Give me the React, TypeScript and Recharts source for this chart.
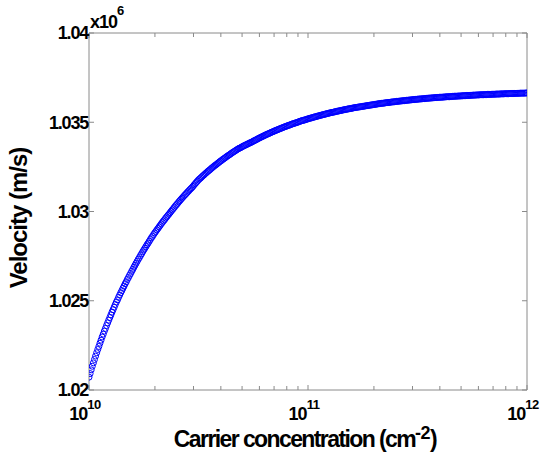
import { ScatterChart, Scatter, XAxis, YAxis, ReferenceLine } from 'recharts';

// carrier concentration, as log10(n) with n in cm^-2
const LOG_N = [
  10.000, 10.005, 10.010, 10.015, 10.020, 10.025, 10.030, 10.035, 10.040, 10.045,
  10.050, 10.055, 10.060, 10.065, 10.070, 10.075, 10.080, 10.085, 10.090, 10.095,
  10.100, 10.105, 10.110, 10.115, 10.120, 10.125, 10.130, 10.135, 10.140, 10.145,
  10.150, 10.155, 10.160, 10.165, 10.170, 10.175, 10.180, 10.185, 10.190, 10.195,
  10.200, 10.205, 10.210, 10.215, 10.220, 10.225, 10.230, 10.235, 10.240, 10.245,
  10.250, 10.255, 10.260, 10.265, 10.270, 10.275, 10.280, 10.285, 10.290, 10.295,
  10.300, 10.305, 10.310, 10.315, 10.320, 10.325, 10.330, 10.335, 10.340, 10.345,
  10.350, 10.355, 10.360, 10.365, 10.370, 10.375, 10.380, 10.385, 10.390, 10.395,
  10.400, 10.405, 10.410, 10.415, 10.420, 10.425, 10.430, 10.435, 10.440, 10.445,
  10.450, 10.455, 10.460, 10.465, 10.470, 10.475, 10.480, 10.485, 10.490, 10.495,
  10.500, 10.505, 10.510, 10.515, 10.520, 10.525, 10.530, 10.535, 10.540, 10.545,
  10.550, 10.555, 10.560, 10.565, 10.570, 10.575, 10.580, 10.585, 10.590, 10.595,
  10.600, 10.605, 10.610, 10.615, 10.620, 10.625, 10.630, 10.635, 10.640, 10.645,
  10.650, 10.655, 10.660, 10.665, 10.670, 10.675, 10.680, 10.685, 10.690, 10.695,
  10.700, 10.705, 10.710, 10.715, 10.720, 10.725, 10.730, 10.735, 10.740, 10.745,
  10.750, 10.755, 10.760, 10.765, 10.770, 10.775, 10.780, 10.785, 10.790, 10.795,
  10.800, 10.805, 10.810, 10.815, 10.820, 10.825, 10.830, 10.835, 10.840, 10.845,
  10.850, 10.855, 10.860, 10.865, 10.870, 10.875, 10.880, 10.885, 10.890, 10.895,
  10.900, 10.905, 10.910, 10.915, 10.920, 10.925, 10.930, 10.935, 10.940, 10.945,
  10.950, 10.955, 10.960, 10.965, 10.970, 10.975, 10.980, 10.985, 10.990, 10.995,
  11.000, 11.005, 11.010, 11.015, 11.020, 11.025, 11.030, 11.035, 11.040, 11.045,
  11.050, 11.055, 11.060, 11.065, 11.070, 11.075, 11.080, 11.085, 11.090, 11.095,
  11.100, 11.105, 11.110, 11.115, 11.120, 11.125, 11.130, 11.135, 11.140, 11.145,
  11.150, 11.155, 11.160, 11.165, 11.170, 11.175, 11.180, 11.185, 11.190, 11.195,
  11.200, 11.205, 11.210, 11.215, 11.220, 11.225, 11.230, 11.235, 11.240, 11.245,
  11.250, 11.255, 11.260, 11.265, 11.270, 11.275, 11.280, 11.285, 11.290, 11.295,
  11.300, 11.305, 11.310, 11.315, 11.320, 11.325, 11.330, 11.335, 11.340, 11.345,
  11.350, 11.355, 11.360, 11.365, 11.370, 11.375, 11.380, 11.385, 11.390, 11.395,
  11.400, 11.405, 11.410, 11.415, 11.420, 11.425, 11.430, 11.435, 11.440, 11.445,
  11.450, 11.455, 11.460, 11.465, 11.470, 11.475, 11.480, 11.485, 11.490, 11.495,
  11.500, 11.505, 11.510, 11.515, 11.520, 11.525, 11.530, 11.535, 11.540, 11.545,
  11.550, 11.555, 11.560, 11.565, 11.570, 11.575, 11.580, 11.585, 11.590, 11.595,
  11.600, 11.605, 11.610, 11.615, 11.620, 11.625, 11.630, 11.635, 11.640, 11.645,
  11.650, 11.655, 11.660, 11.665, 11.670, 11.675, 11.680, 11.685, 11.690, 11.695,
  11.700, 11.705, 11.710, 11.715, 11.720, 11.725, 11.730, 11.735, 11.740, 11.745,
  11.750, 11.755, 11.760, 11.765, 11.770, 11.775, 11.780, 11.785, 11.790, 11.795,
  11.800, 11.805, 11.810, 11.815, 11.820, 11.825, 11.830, 11.835, 11.840, 11.845,
  11.850, 11.855, 11.860, 11.865, 11.870, 11.875, 11.880, 11.885, 11.890, 11.895,
  11.900, 11.905, 11.910, 11.915, 11.920, 11.925, 11.930, 11.935, 11.940, 11.945,
  11.950, 11.955, 11.960, 11.965, 11.970, 11.975, 11.980, 11.985, 11.990, 11.995,
  12.000,
];

// velocity, m/s
const VELOCITY = [
  1020720, 1020920, 1021130, 1021330, 1021520, 1021710, 1021900, 1022090,
  1022270, 1022440, 1022620, 1022790, 1022970, 1023130, 1023300, 1023450,
  1023610, 1023760, 1023910, 1024060, 1024210, 1024360, 1024500, 1024640,
  1024790, 1024930, 1025050, 1025190, 1025320, 1025450, 1025570, 1025700,
  1025820, 1025950, 1026060, 1026190, 1026300, 1026420, 1026530, 1026650,
  1026760, 1026880, 1026990, 1027100, 1027210, 1027320, 1027420, 1027530,
  1027630, 1027740, 1027840, 1027940, 1028040, 1028140, 1028230, 1028330,
  1028430, 1028530, 1028610, 1028710, 1028800, 1028880, 1028970, 1029050,
  1029140, 1029220, 1029310, 1029390, 1029470, 1029540, 1029630, 1029700,
  1029780, 1029850, 1029930, 1030010, 1030090, 1030160, 1030240, 1030320,
  1030390, 1030460, 1030540, 1030610, 1030680, 1030750, 1030820, 1030890,
  1030950, 1031020, 1031090, 1031150, 1031220, 1031280, 1031340, 1031410,
  1031490, 1031560, 1031630, 1031700, 1031770, 1031830, 1031880, 1031940,
  1032000, 1032050, 1032110, 1032160, 1032220, 1032270, 1032320, 1032370,
  1032430, 1032480, 1032530, 1032580, 1032620, 1032670, 1032720, 1032770,
  1032820, 1032860, 1032910, 1032950, 1033000, 1033040, 1033090, 1033130,
  1033170, 1033210, 1033260, 1033300, 1033340, 1033380, 1033420, 1033460,
  1033500, 1033540, 1033560, 1033600, 1033630, 1033670, 1033690, 1033730,
  1033750, 1033790, 1033810, 1033850, 1033870, 1033900, 1033940, 1033970,
  1034000, 1034030, 1034070, 1034100, 1034130, 1034160, 1034190, 1034220,
  1034250, 1034280, 1034310, 1034340, 1034360, 1034390, 1034420, 1034450,
  1034470, 1034500, 1034530, 1034550, 1034580, 1034600, 1034630, 1034650,
  1034680, 1034700, 1034730, 1034750, 1034770, 1034800, 1034820, 1034840,
  1034860, 1034890, 1034910, 1034930, 1034950, 1034970, 1034990, 1035010,
  1035040, 1035060, 1035080, 1035100, 1035110, 1035130, 1035150, 1035170,
  1035190, 1035210, 1035230, 1035240, 1035260, 1035280, 1035300, 1035310,
  1035330, 1035350, 1035360, 1035380, 1035400, 1035410, 1035430, 1035440,
  1035460, 1035480, 1035490, 1035510, 1035520, 1035540, 1035550, 1035560,
  1035580, 1035590, 1035610, 1035620, 1035630, 1035650, 1035660, 1035670,
  1035690, 1035700, 1035710, 1035720, 1035740, 1035750, 1035760, 1035770,
  1035780, 1035800, 1035810, 1035820, 1035830, 1035840, 1035850, 1035860,
  1035870, 1035880, 1035890, 1035900, 1035910, 1035920, 1035930, 1035940,
  1035950, 1035960, 1035970, 1035980, 1035990, 1036000, 1036010, 1036020,
  1036030, 1036040, 1036050, 1036060, 1036060, 1036070, 1036080, 1036090,
  1036100, 1036100, 1036110, 1036120, 1036130, 1036140, 1036140, 1036150,
  1036160, 1036170, 1036170, 1036180, 1036190, 1036190, 1036200, 1036210,
  1036210, 1036220, 1036230, 1036230, 1036240, 1036250, 1036250, 1036260,
  1036270, 1036270, 1036280, 1036280, 1036290, 1036300, 1036300, 1036310,
  1036310, 1036320, 1036320, 1036330, 1036340, 1036340, 1036350, 1036350,
  1036360, 1036360, 1036370, 1036370, 1036380, 1036380, 1036390, 1036390,
  1036400, 1036400, 1036400, 1036410, 1036410, 1036420, 1036420, 1036430,
  1036430, 1036430, 1036440, 1036440, 1036450, 1036450, 1036460, 1036460,
  1036460, 1036470, 1036470, 1036470, 1036480, 1036480, 1036490, 1036490,
  1036490, 1036500, 1036500, 1036500, 1036510, 1036510, 1036510, 1036520,
  1036520, 1036520, 1036530, 1036530, 1036530, 1036540, 1036540, 1036540,
  1036540, 1036550, 1036550, 1036550, 1036560, 1036560, 1036560, 1036560,
  1036570, 1036570, 1036570, 1036570, 1036580, 1036580, 1036580, 1036580,
  1036590, 1036590, 1036590, 1036590, 1036600, 1036600, 1036600, 1036600,
  1036610, 1036610, 1036610, 1036610, 1036610, 1036620, 1036620, 1036620,
  1036620, 1036620, 1036630, 1036630, 1036630, 1036630, 1036630, 1036640,
  1036640,
];

const X_MAJOR = [1e10, 1e11, 1e12];
const X_MAJOR_EXP = ['10', '11', '12'];
const X_MINOR = [
  2e10, 3e10, 4e10, 5e10, 6e10, 7e10, 8e10, 9e10,
  2e11, 3e11, 4e11, 5e11, 6e11, 7e11, 8e11, 9e11,
];
const Y_TICKS = [1020000, 1025000, 1030000, 1035000, 1040000];
const Y_TICK_LABELS = ['1.02', '1.025', '1.03', '1.035', '1.04'];

const data = LOG_N.map((e, i) => ({ n: Math.pow(10, e), v: VELOCITY[i] }));

const W = 550;
const H = 459;
const TOP = 33;
const LEFT = 89;
const RIGHT = 527;
const BOTTOM = 390;
const TICK = 5;
const AXIS = '#8a8a8a';
const BLUE = '#0000ff';
const FONT = '"Liberation Sans", Arial, sans-serif';

function XTick({ x, payload }: any) {
  const idx = X_MAJOR.indexOf(payload.value);
  const len = idx >= 0 ? TICK : TICK - 1;
  return (
    <g>
      <line x1={x} x2={x} y1={BOTTOM} y2={BOTTOM - len} stroke={AXIS} />
      <line x1={x} x2={x} y1={TOP} y2={TOP + len} stroke={AXIS} />
      {idx >= 0 && (
        <text x={x - 4} y={BOTTOM + 30} textAnchor="middle" fontFamily={FONT}
          fontWeight="bold" fill="#000">
          <tspan fontSize={18} letterSpacing={-1}>10</tspan>
          <tspan fontSize={13} dy={-11} letterSpacing={-0.5}>{X_MAJOR_EXP[idx]}</tspan>
        </text>
      )}
    </g>
  );
}

function YTick({ y, payload }: any) {
  const idx = Y_TICKS.indexOf(payload.value);
  return (
    <g>
      <line x1={LEFT} x2={LEFT + TICK} y1={y} y2={y} stroke={AXIS} />
      <line x1={RIGHT} x2={RIGHT - TICK} y1={y} y2={y} stroke={AXIS} />
      <text x={LEFT - 1} y={y} dy="0.36em" textAnchor="end" fontFamily={FONT}
        fontWeight="bold" fontSize={18} letterSpacing={-1.2} fill="#000">
        {Y_TICK_LABELS[idx]}
      </text>
    </g>
  );
}

function YLabel() {
  return (
    <g>
      <text x={19} y={218} transform="rotate(-90 19 218)" textAnchor="middle" dy="0.35em"
        fontFamily={FONT} fontWeight="bold" fontSize={24} letterSpacing={-1} fill="#000">
        Velocity (m/s)
      </text>
      <text x={90} y={28} fontFamily={FONT} fontWeight="bold" fill="#000">
        <tspan fontSize={18} letterSpacing={-1}>x10</tspan>
        <tspan fontSize={13} dy={-13}>6</tspan>
      </text>
    </g>
  );
}

function XLabel() {
  return (
    <text x={305} y={447} textAnchor="middle" fontFamily={FONT} fontWeight="bold"
      fontSize={23} letterSpacing={-1.6} fill="#000">
      Carrier concentration (cm
      <tspan fontSize={18} dy={-8} letterSpacing={-0.5}>-2</tspan>
      <tspan dy={8}>)</tspan>
    </text>
  );
}

const Marker = (props: any) => (
  <circle cx={props.cx} cy={props.cy} r={3} fill="none" stroke={BLUE} strokeWidth={1} />
);

export default function App() {
  return (
    <div style={{ position: 'absolute', left: 0, top: 0, width: W, height: H, background: '#fff' }}>
      <ScatterChart width={W} height={H} margin={{ top: TOP, right: W - RIGHT, left: 0, bottom: 0 }}>
        <XAxis
          dataKey="n"
          type="number"
          scale="log"
          domain={[1e10, 1e12]}
          allowDataOverflow
          ticks={[...X_MAJOR, ...X_MINOR]}
          tick={<XTick />}
          tickLine={false}
          axisLine={{ stroke: AXIS }}
          height={H - BOTTOM}
          interval={0}
          label={{ content: <XLabel /> }}
        />
        <YAxis
          dataKey="v"
          type="number"
          domain={[1020000, 1040000]}
          allowDataOverflow
          ticks={Y_TICKS}
          tick={<YTick />}
          tickLine={false}
          axisLine={{ stroke: AXIS }}
          width={LEFT}
          interval={0}
          label={{ content: <YLabel /> }}
        />
        <ReferenceLine y={1040000} stroke={AXIS} />
        <ReferenceLine x={1e12} stroke={AXIS} />
        <Scatter data={data} shape={<Marker />} isAnimationActive={false} />
      </ScatterChart>
    </div>
  );
}
